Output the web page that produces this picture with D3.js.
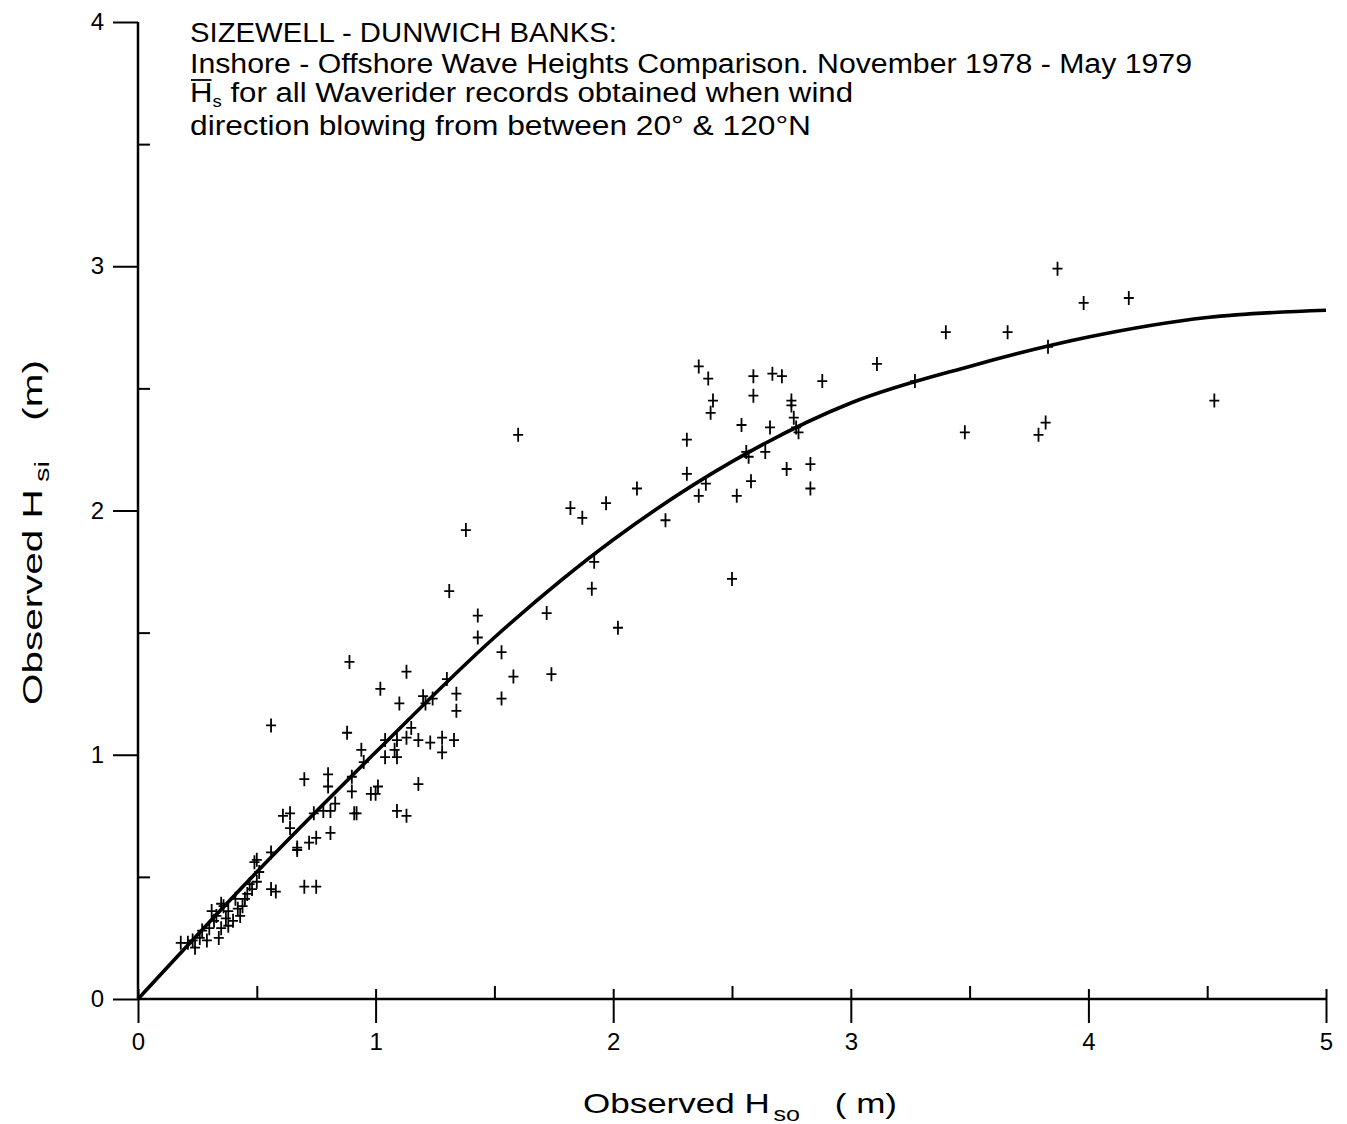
<!DOCTYPE html>
<html>
<head>
<meta charset="utf-8">
<script src="https://cdn.jsdelivr.net/npm/d3@7"></script>
<style>
  html, body { margin: 0; padding: 0; background: #fff; }
  svg { display: block; }
  text { font-family: "Liberation Sans", Arial, sans-serif; fill: #000; }
</style>
</head>
<body>
<svg id="chart" width="1347" height="1124"></svg>
<script>
// ---- Data ----
const titleLines = [
  "SIZEWELL - DUNWICH BANKS:",
  "Inshore - Offshore Wave Heights Comparison.  November 1978 - May 1979",
  " for all Waverider records obtained when wind",
  "direction blowing from between 20°  & 120°N"
];
const xTicks = [0, 1, 2, 3, 4, 5];
const xMinorTicks = [0.5, 1.5, 2.5, 3.5, 4.5];
const yTicks = [0, 1, 2, 3, 4];
const yMinorTicks = [0.5, 1.5, 2.5, 3.5];

// fitted curve
const curveX = [0, 0.5, 1.0, 1.5, 2.0, 2.5, 3.0, 3.5, 4.0, 4.5, 5.0];
const curveY = [0, 0.52, 1.01, 1.48, 1.88, 2.20, 2.44, 2.59, 2.71, 2.79, 2.82];

// observed points: offshore Hso (x) and inshore Hsi (y)
const hso = [
  3.87,3.98,4.17,3.40,3.66,3.11,3.27,3.83,3.48,3.82,3.79,4.53,
  2.36,2.40,2.59,2.67,2.71,2.88,2.42,2.41,2.59,2.75,2.75,2.76,2.77,2.78,2.31,2.54,2.66,2.56,2.57,2.64,2.31,2.39,2.73,2.83,2.58,2.36,2.52,2.83,2.22,2.10,2.50,
  1.82,1.87,1.97,1.38,1.92,1.91,2.02,1.31,1.43,1.43,1.72,1.53,1.58,1.74,1.53,1.30,1.34,1.34,1.13,1.20,1.24,1.21,1.15,1.60,
  0.89,1.02,1.10,0.88,1.04,1.09,1.13,1.18,1.23,1.28,1.33,1.08,1.04,1.09,1.28,0.94,0.95,0.70,0.80,0.80,0.90,0.90,0.83,0.98,1.01,1.00,1.18,0.74,0.78,0.81,0.91,0.92,1.09,1.13,0.75,0.81,
  0.56,0.61,0.64,0.64,0.72,0.67,0.67,0.56,0.49,0.50,0.56,0.58,0.70,0.75,
  0.18,0.50,0.48,0.45,0.41,0.43,0.35,0.38,0.31,0.32,0.35,0.37,0.30,0.27,0.26,0.23,0.21,0.33,0.44,0.46,0.51,0.40,0.34,0.29,0.24,0.38,0.42,0.47,0.36
];
const hsi = [
  2.99,2.85,2.87,2.73,2.73,2.60,2.53,2.67,2.32,2.36,2.31,2.45,
  2.59,2.54,2.55,2.56,2.55,2.53,2.45,2.40,2.47,2.45,2.43,2.38,2.34,2.32,2.29,2.35,2.34,2.24,2.22,2.24,2.15,2.11,2.17,2.19,2.12,2.06,2.06,2.09,1.96,2.09,1.72,
  2.01,1.97,2.03,1.92,1.79,1.68,1.52,1.67,1.57,1.48,1.58,1.42,1.32,1.33,1.23,1.31,1.25,1.18,1.34,1.24,1.23,1.21,1.11,2.31,
  1.38,1.27,1.21,1.09,1.06,1.06,1.07,1.06,1.05,1.07,1.06,1.02,0.99,0.99,1.01,1.02,0.97,0.90,0.92,0.87,0.91,0.85,0.80,0.84,0.87,0.84,0.88,0.76,0.77,0.77,0.76,0.76,0.77,0.75,0.66,0.68,
  1.12,0.75,0.76,0.70,0.64,0.62,0.61,0.60,0.56,0.57,0.45,0.44,0.46,0.46,
  0.23,0.48,0.45,0.41,0.41,0.34,0.39,0.36,0.36,0.32,0.29,0.33,0.29,0.28,0.25,0.24,0.23,0.34,0.38,0.43,0.52,0.32,0.25,0.24,0.21,0.30,0.37,0.47,0.38
];

// ---- Drawing ----
const svg = d3.select("#chart");
const x = d3.scaleLinear().domain([0, 5]).range([138, 1326]);
const y = d3.scaleLinear().domain([0, 4]).range([999, 22]);

// Y axis (major ticks to the left)
const yAxis = svg.append("g").attr("transform", `translate(${x(0)},0)`)
  .call(d3.axisLeft(y).tickValues(yTicks).tickSize(25).tickPadding(9).tickFormat(d3.format("d")));
yAxis.select(".domain").attr("stroke-width", 2.5).attr("d", `M0,${y(4)}V${y(0)}`);
yAxis.selectAll(".tick line").attr("stroke-width", 2);
yAxis.selectAll(".tick text").style("font-size", "24px").style("font-family", "Liberation Sans, Arial, sans-serif");

// Y minor ticks (to the right)
const yMinor = svg.append("g").attr("transform", `translate(${x(0)},0)`)
  .call(d3.axisRight(y).tickValues(yMinorTicks).tickSize(12).tickFormat(""));
yMinor.select(".domain").remove();
yMinor.selectAll(".tick line").attr("stroke-width", 2);

// X axis (major ticks crossing the axis)
const xAxis = svg.append("g").attr("transform", `translate(0,${y(0)})`)
  .call(d3.axisBottom(x).tickValues(xTicks).tickSize(24).tickPadding(10).tickFormat(d3.format("d")));
xAxis.select(".domain").attr("stroke-width", 2.5).attr("d", `M${x(0)},0H${x(5)}`);
xAxis.selectAll(".tick line").attr("stroke-width", 2).attr("y1", -10);
xAxis.selectAll(".tick text").style("font-size", "24px").style("font-family", "Liberation Sans, Arial, sans-serif");

// X minor ticks (upwards)
const xMinor = svg.append("g").attr("transform", `translate(0,${y(0)})`)
  .call(d3.axisTop(x).tickValues(xMinorTicks).tickSize(13).tickFormat(""));
xMinor.select(".domain").remove();
xMinor.selectAll(".tick line").attr("stroke-width", 2);

// Fitted curve
const curveData = curveX.map((v, i) => [v, curveY[i]]);
svg.append("path")
  .datum(curveData)
  .attr("fill", "none")
  .attr("stroke", "#000")
  .attr("stroke-width", 3.6)
  .attr("d", d3.line().x(d => x(d[0])).y(d => y(d[1])).curve(d3.curveMonotoneX));

// Points as "+" markers
const pts = hso.map((v, i) => [v, hsi[i]]);
svg.append("g").selectAll("path.pt")
  .data(pts).join("path")
  .attr("class", "pt")
  .attr("fill", "none")
  .attr("stroke", "#000")
  .attr("stroke-width", 1.8)
  .attr("d", d => {
    const cx = x(d[0]), cy = y(d[1]);
    return `M${cx},${cy - 7}V${cy + 7}M${cx - 5},${cy}H${cx + 5}`;
  });

// Title block
const tx = 190;
const tBase = [42, 73, 102, 135];
const tWidth = [427, 1002, 663, 621];
svg.append("text").attr("x", tx).attr("y", tBase[0]).attr("font-size", 27)
  .attr("textLength", tWidth[0]).attr("lengthAdjust", "spacingAndGlyphs").text(titleLines[0]);
svg.append("text").attr("x", tx).attr("y", tBase[1]).attr("font-size", 27)
  .attr("textLength", tWidth[1]).attr("lengthAdjust", "spacingAndGlyphs").text(titleLines[1]);
const t3 = svg.append("text").attr("x", tx).attr("y", tBase[2]).attr("font-size", 27)
  .attr("textLength", tWidth[2]).attr("lengthAdjust", "spacingAndGlyphs");
t3.append("tspan").text("H");
t3.append("tspan").attr("font-size", 16).attr("dy", 5).text("s");
t3.append("tspan").attr("dy", -5).text(titleLines[2]);
svg.append("text").attr("x", tx).attr("y", tBase[3]).attr("font-size", 27)
  .attr("textLength", tWidth[3]).attr("lengthAdjust", "spacingAndGlyphs").text(titleLines[3]);
// overbar on H
try {
  const ext = t3.node().getExtentOfChar(0);
  svg.append("line")
    .attr("x1", ext.x + 1).attr("x2", ext.x + ext.width - 1)
    .attr("y1", tBase[2] - 22).attr("y2", tBase[2] - 22)
    .attr("stroke", "#000").attr("stroke-width", 1.8);
} catch (e) {}

// Y axis title
const yl = svg.append("text")
  .attr("transform", "translate(42,705) rotate(-90)")
  .attr("font-size", 28)
  .attr("textLength", 345).attr("lengthAdjust", "spacingAndGlyphs");
yl.append("tspan").text("Observed H");
yl.append("tspan").attr("font-size", 20).attr("dy", 7).attr("dx", 5).text("si");
yl.append("tspan").attr("dy", -7).attr("dx", 28).text("(m)");

// X axis title
const xl = svg.append("text")
  .attr("x", 583).attr("y", 1113)
  .attr("font-size", 28)
  .attr("textLength", 314).attr("lengthAdjust", "spacingAndGlyphs");
xl.append("tspan").text("Observed H");
xl.append("tspan").attr("font-size", 20).attr("dy", 8).attr("dx", 3).text("so");
xl.append("tspan").attr("dy", -8).attr("dx", 28).text("( m)");
</script>
</body>
</html>
